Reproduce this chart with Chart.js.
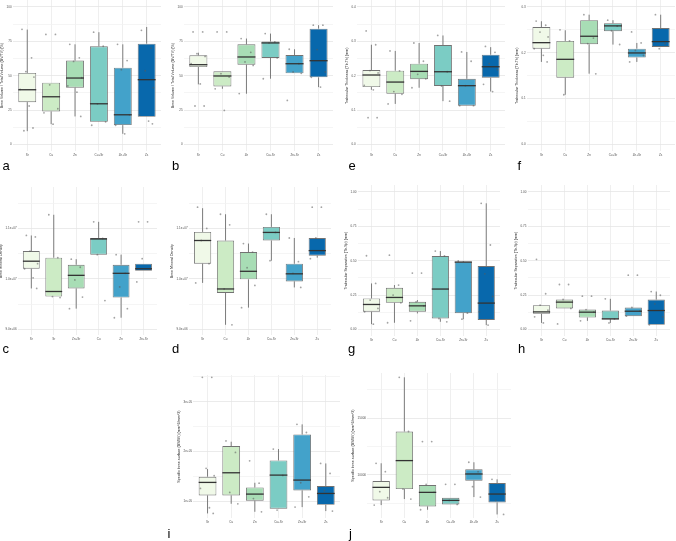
<!DOCTYPE html>
<html>
<head>
<meta charset="utf-8">
<script src="https://cdn.jsdelivr.net/npm/chart.js@4.4.1/dist/chart.umd.min.js"></script>
<style>
  body { margin: 0; background: #fff; }
  #fig { position: relative; width: 676px; height: 541px; overflow: hidden; font-family: "Liberation Sans", Arial, sans-serif; }
  #fig canvas { position: absolute; }
  .lt { position: absolute; font-size: 13px; line-height: 13px; color: #000; transform: translateZ(0); opacity: 0.99; }
</style>
</head>
<body>
<div id="fig"></div>
<script>
// groups (fill order follows GnBu palette)
const groups = ['Sr', 'Cu', 'Zn', 'Cu+Sr', 'Zn+Sr', 'Zs'];
const groupsC = ['Sr', 'Sr', 'Zn+Sr', 'Cu', 'Zn', 'Zn+Sr'];
const fills = ['#f0f9e8', '#ccebc5', '#a8ddb5', '#7bccc4', '#43a2ca', '#0868ac'];

// five-number summaries per group: [low whisker, Q1, median, Q3, high whisker]
const bvtvA = [[9.7, 30.8, 39.8, 52, 83.5], [14.8, 24, 34.7, 44.9, 44.9], [20.4, 41.3, 48.3, 61, 72.8],
               [16.5, 16.5, 29.6, 71.4, 81.6], [7.8, 14.1, 21.6, 55.8, 72.8], [20.1, 20.1, 47.1, 73.3, 85.4]];
const bvtvAPts = [[83.7, 63, 53, 49, 40, 28, 12, 10], [80, 80, 43.4, 26, 23, 14.8], [72.8, 63, 60.4, 48.5, 42.5, 38, 20.4],
                  [81.6, 71.4, 29.6, 16.5, 14], [72.8, 61, 54.4, 21.6, 14, 7.8], [83, 70, 53.6, 41.3, 21.6, 17, 15]];

const bvtvB = [[43.7, 56.3, 58, 64.8, 66.7], [40.5, 42.2, 49.8, 53.2, 53.2], [36.9, 58, 63.6, 72.8, 77],
               [47.8, 62.9, 73.8, 74.8, 80.6], [51.7, 51.7, 58.7, 65, 69.2], [41.7, 48.8, 60.9, 84.2, 86.7]];
const bvtvBPts = [[81.8, 81.8, 66, 64, 58.7, 44, 28, 28], [81.8, 81.8, 51.5, 49, 40.5, 24.8], [77, 67, 60, 57.5, 37],
                  [80.6, 74.5, 73.8, 62.9, 47.8], [69.2, 58.7, 52.7, 51.7, 32], [86.7, 86.7, 69, 52.7, 48.8, 41.7]];

const tbthE = [[0.159, 0.167, 0.202, 0.2165, 0.290], [0.118, 0.1475, 0.1815, 0.2145, 0.272], [0.165, 0.19, 0.2125, 0.235, 0.295],
               [0.126, 0.17, 0.2115, 0.289, 0.317], [0.113, 0.113, 0.171, 0.191, 0.269], [0.154, 0.194, 0.226, 0.261, 0.283]];
const tbthEPts = [[0.33, 0.29, 0.215, 0.208, 0.172, 0.159, 0.078, 0.078], [0.272, 0.214, 0.154, 0.146, 0.118],
                  [0.295, 0.242, 0.204, 0.191, 0.165], [0.317, 0.2115, 0.17, 0.126], [0.269, 0.242, 0.171, 0.113, 0.113],
                  [0.285, 0.268, 0.235, 0.217, 0.175, 0.154]];

const tbthF = [[0.18, 0.209, 0.222, 0.256, 0.2687], [0.1085, 0.1457, 0.1857, 0.2258, 0.249], [0.1544, 0.2185, 0.236, 0.271, 0.283],
               [0.2178, 0.247, 0.2586, 0.2644, 0.271], [0.18, 0.1894, 0.1996, 0.209, 0.2214], [0.2127, 0.2127, 0.2243, 0.254, 0.283]];
const tbthFPts = [[0.269, 0.26, 0.245, 0.2345, 0.209, 0.1945, 0.18], [0.25, 0.226, 0.1085], [0.283, 0.232, 0.22, 0.154],
                  [0.271, 0.258, 0.248, 0.218], [0.2455, 0.2214, 0.205, 0.194, 0.18], [0.283, 0.22, 0.209]];

const bmdC = [[9.81e6, 10.20e6, 10.35e6, 10.55e6, 10.86e6], [9.65e6, 9.65e6, 9.75e6, 10.42e6, 11.27e6],
              [9.41e6, 9.81e6, 10.07e6, 10.28e6, 10.39e6], [10.48e6, 10.48e6, 10.79e6, 10.81e6, 11.13e6],
              [9.23e6, 9.63e6, 10.11e6, 10.28e6, 10.48e6], [10.16e6, 10.16e6, 10.20e6, 10.30e6, 10.30e6]];
const bmdCPts = [[10.86e6, 10.83e6, 10.55e6, 10.30e6, 10.20e6, 10.02e6, 9.81e6], [11.27e6, 10.42e6, 9.65e6, 9.63e6],
                 [10.39e6, 10.23e6, 9.98e6, 9.64e6, 9.41e6], [11.13e6, 10.80e6, 10.48e6, 9.57e6],
                 [10.48e6, 10.11e6, 9.84e6, 9.41e6, 9.23e6], [11.13e6, 11.13e6, 10.40e6, 10.20e6, 9.94e6]];

const bmdD = [[9.92e6, 10.30e6, 10.76e6, 10.93e6, 11.40e6], [9.09e6, 9.72e6, 9.80e6, 10.76e6, 11.28e6],
              [9.43e6, 9.99e6, 10.15e6, 10.53e6, 10.70e6], [10.36e6, 10.76e6, 10.92e6, 11.03e6, 11.28e6],
              [9.83e6, 9.95e6, 10.10e6, 10.30e6, 10.81e6], [10.42e6, 10.46e6, 10.56e6, 10.81e6, 10.81e6]];
const bmdDPts = [[11.42e6, 11.0e6, 10.76e6, 10.30e6, 9.92e6], [11.28e6, 11.07e6, 9.80e6, 9.09e6],
                 [10.70e6, 10.53e6, 10.22e6, 9.87e6, 9.43e6], [11.28e6, 10.92e6, 10.36e6],
                 [10.81e6, 10.34e6, 10.11e6, 9.83e6], [11.42e6, 11.42e6, 10.81e6, 10.56e6, 10.40e6]];

const tbspG = [[0.039, 0.129, 0.182, 0.226, 0.335], [0.049, 0.194, 0.233, 0.303, 0.323], [0.117, 0.129, 0.172, 0.201, 0.214],
               [0.056, 0.080, 0.294, 0.534, 0.57], [0.075, 0.119, 0.49, 0.493, 0.498], [0.032, 0.070, 0.192, 0.461, 0.917]];
const tbspGPts = [[0.536, 0.335, 0.214, 0.153, 0.129, 0.039], [0.54, 0.323, 0.25, 0.194, 0.049], [0.41, 0.41, 0.201, 0.172, 0.063],
                  [0.57, 0.534, 0.08, 0.056], [0.498, 0.119, 0.075], [0.917, 0.614, 0.405, 0.24, 0.129, 0.032]];

const tbspH = [[0.048, 0.114, 0.128, 0.177, 0.177], [0.153, 0.153, 0.199, 0.218, 0.218], [0.063, 0.087, 0.126, 0.145, 0.145],
               [0.048, 0.075, 0.077, 0.138, 0.223], [0.097, 0.097, 0.133, 0.16, 0.16], [0.034, 0.034, 0.138, 0.218, 0.276]];
const tbspHPts = [[0.51, 0.26, 0.177, 0.14, 0.092, 0.048], [0.327, 0.327, 0.218, 0.153, 0.041], [0.242, 0.242, 0.145, 0.126, 0.063],
                  [0.223, 0.077, 0.048], [0.395, 0.395, 0.16, 0.133, 0.097], [0.276, 0.249, 0.186, 0.092, 0.034]];

const bsbvI = [[0.752e5, 1.114e5, 1.376e5, 1.49e5, 1.644e5], [0.946e5, 1.114e5, 1.57e5, 2.107e5, 2.195e5],
               [0.785e5, 1.007e5, 1.141e5, 1.275e5, 1.369e5], [0.846e5, 0.846e5, 1.523e5, 1.819e5, 2.047e5],
               [0.879e5, 1.215e5, 1.423e5, 2.342e5, 2.544e5], [0.799e5, 0.926e5, 1.154e5, 1.302e5, 1.758e5]];
const bsbvIPts = [[3.49e5, 3.49e5, 1.66e5, 1.51e5, 1.255e5, 0.866e5, 0.752e5], [2.21e5, 1.98e5, 1.174e5, 0.946e5],
                  [1.81e5, 1.36e5, 1.05e5, 0.785e5], [2.047e5, 1.517e5, 0.82e5],
                  [2.544e5, 2.38e5, 1.369e5, 1.087e5, 0.879e5], [1.758e5, 1.557e5, 1.208e5, 0.799e5]];

const bsbvJ = [[7353, 7765, 8912, 9471, 11029], [7882, 8765, 11265, 13824, 18588], [6941, 7235, 8471, 9118, 9118],
               [7412, 7412, 7765, 8000, 8000], [8059, 9500, 10088, 10500, 11118], [6529, 7588, 8324, 9294, 9618]];
const bsbvJPts = [[11029, 10294, 8529, 8000, 7353], [18588, 13824, 8765, 7882], [12941, 12941, 9176, 8471, 6941],
                  [9176, 9176, 7765, 7412], [11118, 10294, 8971, 8059], [9618, 8824, 7765, 6529]];

// ---- drawing ----
Chart.defaults.font.family = '"Liberation Sans", Arial, sans-serif';
const jit = [-0.22, 0.18, -0.06, 0.28, -0.3, 0.08, 0.24, -0.14];

function sci(d) {
  return v => {
    const [m, e] = v.toExponential(d).split('e');
    return m + 'e' + e[0] + e.slice(1).padStart(2, '0');
  };
}

// whiskers under the boxes, median bars on top
const boxPlugin = {
  id: 'boxWhisk',
  beforeDatasetsDraw(chart, args, opts) {
    const { ctx, scales: { x, y } } = chart;
    ctx.save();
    ctx.strokeStyle = '#6e6e6e';
    ctx.lineWidth = 0.9;
    opts.stats.forEach((s, i) => {
      const px = x.getPixelForValue(i);
      ctx.beginPath();
      ctx.moveTo(px, y.getPixelForValue(s[0]));
      ctx.lineTo(px, y.getPixelForValue(s[1]));
      ctx.moveTo(px, y.getPixelForValue(s[3]));
      ctx.lineTo(px, y.getPixelForValue(s[4]));
      ctx.stroke();
    });
    ctx.restore();
  },
  afterDatasetsDraw(chart, args, opts) {
    const { ctx, scales: { x, y } } = chart;
    ctx.save();
    ctx.strokeStyle = '#333';
    ctx.lineWidth = 1.3;
    opts.stats.forEach((s, i) => {
      const py = y.getPixelForValue(s[2]);
      ctx.beginPath();
      ctx.moveTo(x.getPixelForValue(i - 0.375), py);
      ctx.lineTo(x.getPixelForValue(i + 0.375), py);
      ctx.stroke();
    });
    ctx.restore();
  }
};

const titleBV = 'Bone Volume / Total Volume (BV/TV) (%)';
const titleTh = 'Trabecular Thickness (Tb.Th) (mm)';
const titleBMD = 'Bone Mineral Density';
const titleSp = 'Trabecular Separation (Tb.Sp) (mm)';
const titleBS = 'Specific bone surface (BS/BV) (mm^2/mm^3)';

const panels = [
  { stats: bvtvA, pts: bvtvAPts, cats: groups, title: titleBV, min: -5, max: 105, step: 25, fmt: v => String(v), L: 13, R: 160.6, T: 0, B: 150.9 },
  { stats: bvtvB, pts: bvtvBPts, cats: groups, title: titleBV, min: -5, max: 105, step: 25, fmt: v => String(v), L: 184.3, R: 333.1, T: 0, B: 150.9 },
  { stats: tbthE, pts: tbthEPts, cats: groups, title: titleTh, min: -0.02, max: 0.42, step: 0.1, fmt: v => v.toFixed(1), L: 356.7, R: 504.6, T: 0, B: 150.9 },
  { stats: tbthF, pts: tbthFPts, cats: groups, title: titleTh, min: -0.015, max: 0.315, step: 0.1, fmt: v => v.toFixed(1), L: 526.7, R: 674.6, T: 0, B: 150.9 },
  { stats: bmdC, pts: bmdCPts, cats: groupsC, title: titleBMD, min: 8.88e6, max: 11.82e6, step: 1e6, fmt: sci(1), L: 18.2, R: 157.7, T: 186.7, B: 335 },
  { stats: bmdD, pts: bmdDPts, cats: groups, title: titleBMD, min: 8.88e6, max: 11.82e6, step: 1e6, fmt: sci(1), L: 188.5, R: 331.1, T: 186.7, B: 335 },
  { stats: tbspG, pts: tbspGPts, cats: groups, title: titleSp, min: -0.05, max: 1.05, step: 0.25, fmt: v => v.toFixed(2), L: 358.2, R: 500.4, T: 184.8, B: 336.2 },
  { stats: tbspH, pts: tbspHPts, cats: groups, title: titleSp, min: -0.05, max: 1.05, step: 0.25, fmt: v => v.toFixed(2), L: 528.2, R: 670.4, T: 184.8, B: 336.2 },
  { stats: bsbvI, pts: bsbvIPts, cats: groups, title: titleBS, min: 0.652e5, max: 3.537e5, step: 1e5, fmt: sci(0), L: 193.5, R: 340.6, T: 375, B: 518.3 },
  { stats: bsbvJ, pts: bsbvJPts, cats: groups, title: titleBS, min: 6182, max: 18968, step: 5000, fmt: v => String(v), L: 367.1, R: 510.9, T: 373.3, B: 518.3 }
];

const letters = [['a', 2.5, 170], ['b', 172, 170], ['e', 348.5, 170], ['f', 517.5, 170],
                 ['c', 2.5, 353], ['d', 172, 353], ['g', 348, 353], ['h', 518, 353],
                 ['i', 167.5, 538], ['j', 349, 538]];

const fig = document.getElementById('fig');

function makeConfig(p) {
  const half = p.step / 2;
  const isMajor = v => Math.abs(v / p.step - Math.round(v / p.step)) < 1e-6;
  const pointData = p.pts.flatMap((vals, gi) => vals.map((v, k) => ({ x: gi + jit[k % jit.length], y: v })));
  return {
    type: 'bar',
    data: {
      datasets: [
        {
          type: 'scatter',
          data: pointData,
          pointRadius: 0.9,
          pointBackgroundColor: 'rgba(90,90,90,0.55)',
          pointBorderWidth: 0,
          order: 0
        },
        {
          type: 'bar',
          data: p.stats.map((s, i) => ({ x: i, y: [s[1], s[3]] })),
          backgroundColor: fills,
          borderColor: '#727272',
          borderWidth: 0.9,
          borderSkipped: false,
          barPercentage: 1,
          categoryPercentage: 0.75,
          order: 1
        }
      ]
    },
    options: {
      responsive: false,
      maintainAspectRatio: false,
      animation: false,
      devicePixelRatio: 1,
      events: [],
      layout: { padding: 0 },
      plugins: {
        legend: { display: false },
        tooltip: { enabled: false },
        boxWhisk: { stats: p.stats }
      },
      scales: {
        x: {
          type: 'linear',
          min: -0.6,
          max: 5.6,
          offset: false,
          border: { display: false },
          grid: { drawTicks: false, offset: false, color: '#ebebeb', lineWidth: 0.8 },
          ticks: {
            stepSize: 1, includeBounds: false, padding: 1.5, maxRotation: 0, autoSkip: false,
            font: { size: 3 }, color: '#4d4d4d',
            callback: v => p.cats[v] ?? ''
          }
        },
        y: {
          min: p.min,
          max: p.max,
          beginAtZero: false,
          border: { display: false },
          // major + minor ticks at half steps, set explicitly
          afterBuildTicks: s => {
            const ticks = [];
            for (let k = Math.ceil(p.min / half - 1e-9); k * half <= p.max + 1e-9; k++) {
              ticks.push({ value: +(k * half).toPrecision(12) });
            }
            s.ticks = ticks;
          },
          grid: {
            drawTicks: false,
            color: c => (c.tick && isMajor(c.tick.value)) ? '#e6e6e6' : '#f3f3f3',
            lineWidth: 0.8
          },
          ticks: {
            padding: 1.3, autoSkip: false,
            font: { size: 3 }, color: '#4d4d4d',
            callback: v => isMajor(v) ? p.fmt(v) : ''
          },
          title: {
            display: true, text: p.title, color: '#222',
            font: { size: 3.6 }, padding: { top: 1, bottom: 1 }
          }
        }
      }
    },
    plugins: [boxPlugin]
  };
}

panels.forEach(p => {
  const cv = document.createElement('canvas');
  fig.appendChild(cv);
  // first pass: measure the axis space Chart.js needs
  let w = Math.round(p.R - p.L + 40), h = Math.round(p.B - p.T + 20);
  cv.width = w; cv.height = h;
  cv.style.width = w + 'px'; cv.style.height = h + 'px';
  let chart = new Chart(cv.getContext('2d'), makeConfig(p));
  const ca = chart.chartArea;
  const padL = ca.left, padT = ca.top, padR = w - ca.right, padB = h - ca.bottom;
  chart.destroy();
  // second pass: size the canvas so the plot area matches the reference panel
  w = Math.round(padL + (p.R - p.L) + padR);
  h = Math.round(padT + (p.B - p.T) + padB);
  cv.width = w; cv.height = h;
  cv.style.width = w + 'px'; cv.style.height = h + 'px';
  chart = new Chart(cv.getContext('2d'), makeConfig(p));
  cv.style.left = (p.L - chart.chartArea.left) + 'px';
  cv.style.top = (p.T - chart.chartArea.top) + 'px';
});

letters.forEach(([t, x, base]) => {
  const d = document.createElement('div');
  d.className = 'lt';
  d.textContent = t;
  d.style.left = x + 'px';
  d.style.top = (base - 11) + 'px';
  fig.appendChild(d);
});
</script>
</body>
</html>
